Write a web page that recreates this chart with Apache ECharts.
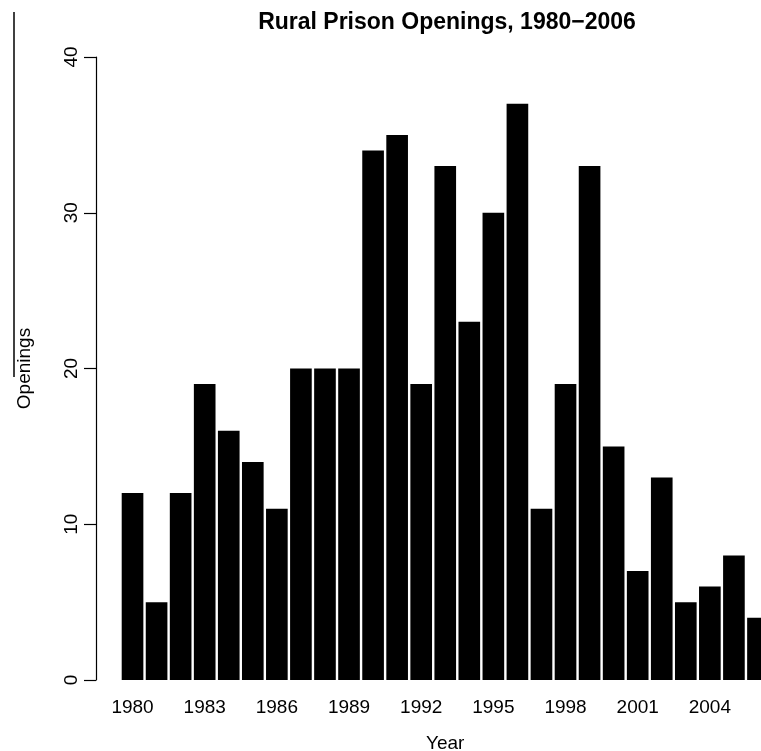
<!DOCTYPE html>
<html>
<head>
<meta charset="utf-8">
<script src="https://cdn.jsdelivr.net/npm/echarts@6/dist/echarts.min.js"></script>
<style>
  html, body { margin: 0; padding: 0; background: #fff; overflow: hidden; }
  #chart { width: 761px; height: 751px; }
</style>
</head>
<body>
<div id="chart"></div>
<script>
// rural prison openings per year
const years = ['1980', '1981', '1982', '1983', '1984', '1985', '1986', '1987', '1988',
    '1989', '1990', '1991', '1992', '1993', '1994', '1995', '1996', '1997', '1998',
    '1999', '2000', '2001', '2002', '2003', '2004', '2005', '2006'];
const openings = [12, 5, 12, 19, 16, 14, 11, 20, 20,
    20, 34, 35, 19, 33, 23, 30, 37, 11, 19,
    33, 15, 7, 13, 5, 6, 8, 4];
const yTicks = [0, 10, 20, 30, 40];

const font = 'Liberation Sans, Arial, Helvetica, sans-serif';

let chart = echarts.init(document.getElementById('chart'));
let option = {
    animation: false,
    backgroundColor: '#fff',
    textStyle: {
        fontFamily: font
    },
    title: {
        text: 'Rural Prison Openings, 1980\u22122006',
        left: 442,
        top: 6,
        textAlign: 'center',
        textStyle: {
            fontFamily: font,
            fontWeight: 'bold',
            fontSize: 23,
            color: '#000'
        }
    },
    grid: {
        left: 120.5,
        right: -9,   // last bar runs off the right edge, as in the original
        top: 57,
        bottom: 71,
        containLabel: false,
        outerBoundsMode: 'none',
        show: false
    },
    xAxis: {
        type: 'category',
        data: years,
        name: 'Year',
        nameLocation: 'middle',
        nameGap: 54,
        nameTextStyle: {
            color: '#000',
            fontSize: 19
        },
        axisLine: { show: false },
        axisTick: { show: false },
        splitLine: { show: false },
        axisLabel: {
            interval: 2,
            margin: 18,
            color: '#000',
            fontSize: 19
        }
    },
    yAxis: {
        type: 'value',
        min: yTicks[0],
        max: yTicks[yTicks.length - 1],
        interval: 10,
        offset: 24.5,
        name: 'Openings',
        nameLocation: 'middle',
        nameGap: 62,
        nameTextStyle: {
            color: '#000',
            fontSize: 19
        },
        axisLine: {
            show: true,
            lineStyle: { color: '#000', width: 1.2 }
        },
        axisTick: {
            show: true,
            length: 12,
            lineStyle: { color: '#000', width: 1.2 }
        },
        splitLine: { show: false },
        axisLabel: {
            rotate: 90,
            margin: 15,
            color: '#000',
            fontSize: 19
        }
    },
    graphic: [{
        type: 'line',
        shape: { x1: 14, y1: 12, x2: 14, y2: 377 },
        style: { stroke: '#000', lineWidth: 1.5 }
    }],
    series: [{
        type: 'bar',
        data: openings,
        barCategoryGap: '10%',
        itemStyle: {
            color: '#000'
        }
    }]
};
chart.setOption(option);
</script>
</body>
</html>
